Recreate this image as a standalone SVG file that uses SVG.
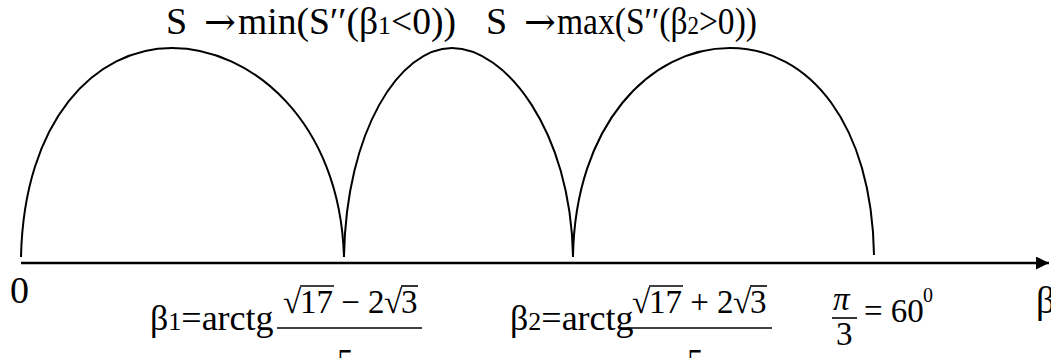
<svg xmlns="http://www.w3.org/2000/svg" width="1051" height="358" viewBox="0 0 1051 358">
<defs>
<style>
text{font-family:'Liberation Serif','Times New Roman',serif;fill:#000}
.t{font-size:38px}
.m{font-size:36px}
.n{font-size:33px}
.s{font-size:26px}
.arr{font-family:'DejaVu Serif',serif;font-size:38px}
.arc{fill:none;stroke:#000;stroke-width:2}
.ax{stroke:#000;stroke-width:2.6;fill:none}
.bar{stroke:#000;stroke-width:1.6}
</style>
<marker id="ah" viewBox="0 0 10 10" refX="10" refY="5" markerWidth="5" markerHeight="5" orient="auto" markerUnits="strokeWidth">
<path d="M0,0 L10,5 L0,10 z" fill="#000"/>
</marker>
</defs>
<rect width="1051" height="358" fill="#fff"/>
<g id="connectors">
<path id="axis" class="ax" d="M21,263 L1049,263" marker-end="url(#ah)"/>
<path id="arc1" class="arc" d="M21,257 C24,120 95,48 172,48 C250,48 340,120 344,257"/>
<path id="arc2" class="arc" d="M344,257 C346,130 400,48 452,48 C505,48 571,130 573,257"/>
<path id="arc3" class="arc" d="M573,257 C575,125 650,48 730,48 C810,48 872,125 874,255"/>
</g>
<g id="label-top1">
<text class="t" x="166" y="34">S</text>
<text class="arr" x="204" y="35">→</text>
<text class="t" x="238" y="34" textLength="218" lengthAdjust="spacingAndGlyphs">min(S′′(β<tspan class="s">1</tspan>&lt;0))</text>
</g>
<g id="label-top2">
<text class="t" x="486" y="34">S</text>
<text class="arr" x="524" y="35">→</text>
<text class="t" x="557" y="34" textLength="200" lengthAdjust="spacingAndGlyphs">max(S′′(β<tspan class="s">2</tspan>&gt;0))</text>
</g>
<g id="label-zero"><text class="t" x="10" y="303">0</text></g>
<g id="label-beta"><text class="t" x="1036" y="313">β</text></g>
<g id="label-b1">
<text class="m" x="150" y="330">β<tspan class="s">1</tspan>=arctg</text>
<text class="n" x="283" y="313">√</text>
<line class="bar" x1="300" y1="286" x2="334" y2="286"/>
<text class="n" x="300" y="313">17 − 2</text>
<text class="n" x="384" y="313">√</text>
<line class="bar" x1="401" y1="286" x2="418" y2="286"/>
<text class="n" x="401" y="313">3</text>
<line class="bar" x1="277" y1="328" x2="422" y2="328"/>
<text class="n" x="337" y="372">5</text>
</g>
<g id="label-b2">
<text class="m" x="510" y="330">β<tspan class="s">2</tspan>=arctg</text>
<text class="n" x="632" y="313">√</text>
<line class="bar" x1="649" y1="286" x2="683" y2="286"/>
<text class="n" x="649" y="313">17 + 2</text>
<text class="n" x="733" y="313">√</text>
<line class="bar" x1="750" y1="286" x2="767" y2="286"/>
<text class="n" x="750" y="313">3</text>
<line class="bar" x1="627" y1="328" x2="772" y2="328"/>
<text class="n" x="687" y="372">5</text>
</g>
<g id="label-pi">
<text class="n" x="833" y="310" font-style="italic">π</text>
<line class="bar" x1="832" y1="318" x2="857" y2="318"/>
<text class="n" x="836" y="345">3</text>
<text class="n" x="864" y="322">= 60</text>
<text class="n" x="923" y="302" style="font-size:20px">0</text>
</g>
</svg>
